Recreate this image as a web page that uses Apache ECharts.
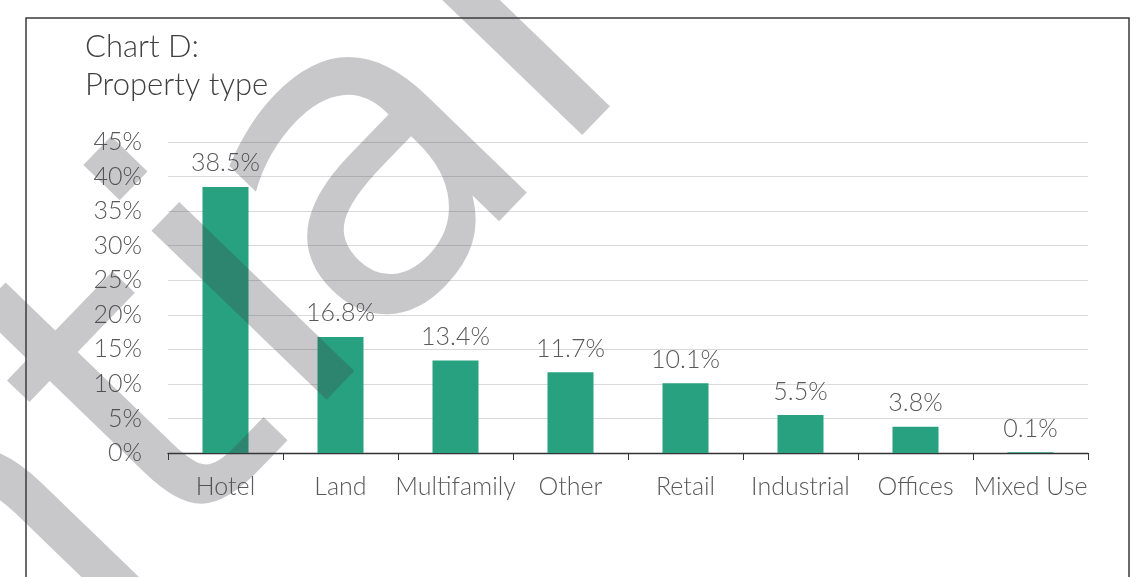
<!DOCTYPE html>
<html>
<head>
<meta charset="utf-8">
<script src="https://cdn.jsdelivr.net/npm/echarts@6/dist/echarts.min.js"></script>
<style>html,body{margin:0;padding:0;background:#fff;}#c{width:1140px;height:577px;}</style>
</head>
<body>
<div id="c"></div>
<script>
const categories = ['Hotel', 'Land', 'Multifamily', 'Other', 'Retail', 'Industrial', 'Offices', 'Mixed Use'];
const shares = [38.5, 16.8, 13.4, 11.7, 10.1, 5.5, 3.8, 0.1];
const yTicks = [0, 5, 10, 15, 20, 25, 30, 35, 40, 45];
const titleLines = ['Chart D:', 'Property type'];

const FONT = 'Lato';

// decorative diagonal watermark (partial word), drawn as rotated text
const WM_SIZE = 445;
const WM_ROT = 46 * Math.PI / 180;
const wmB = [Math.cos(WM_ROT), -Math.sin(WM_ROT)];
const wmU = [-Math.sin(WM_ROT), -Math.cos(WM_ROT)];
const wmOrigin = [338, 383];
const wmK = 0.252 * WM_SIZE;
function wmPiece(str, s, align) {
  const x = wmOrigin[0] + wmB[0] * s + wmU[0] * wmK;
  const y = wmOrigin[1] + wmB[1] * s + wmU[1] * wmK;
  return {type: 'text', x: x, y: y, rotation: WM_ROT, z: 100, silent: true,
    style: {text: str, font: 'normal ' + WM_SIZE + 'px "DejaVu Sans"', fill: 'rgba(65,67,72,0.29)',
      textAlign: align, textVerticalAlign: 'middle'}};
}

const chart = echarts.init(document.getElementById('c'), null, {renderer: 'canvas'});
chart.setOption({
  animation: false,
  backgroundColor: '#ffffff',
  textStyle: {fontFamily: FONT},
  title: {
    text: titleLines.join('\n'),
    left: 80, top: 23,
    textStyle: {fontFamily: FONT, fontWeight: 300, fontSize: 31, color: '#404040', lineHeight: 38}
  },
  grid: {left: 168, right: 52, top: 142, bottom: 124, containLabel: false},
  xAxis: {
    type: 'category',
    data: categories,
    axisLine: {lineStyle: {color: '#333333', width: 1.3}},
    axisTick: {show: true, length: 7, lineStyle: {color: '#333333'}},
    axisLabel: {fontFamily: FONT, fontWeight: 300, fontSize: 25, color: '#595959', margin: 21, interval: 0}
  },
  yAxis: {
    type: 'value',
    min: yTicks[0], max: yTicks[yTicks.length - 1], interval: yTicks[1] - yTicks[0],
    axisLine: {show: false},
    axisTick: {show: false},
    splitLine: {lineStyle: {color: '#d9d9d9', width: 1}},
    axisLabel: {fontFamily: FONT, fontWeight: 300, fontSize: 25, color: '#595959', margin: 26, formatter: '{value}%'}
  },
  series: [{
    type: 'bar',
    data: shares,
    barWidth: '40%',
    itemStyle: {color: '#27a17f'},
    label: {
      show: true, position: 'top', distance: 11,
      fontFamily: FONT, fontWeight: 300, fontSize: 25, color: '#595959',
      formatter: p => p.value.toFixed(1) + '%'
    }
  }],
  graphic: [
    {type: 'rect', shape: {x: 26, y: 18, width: 1103, height: 700}, style: {fill: 'none', stroke: '#3a3a3a', lineWidth: 1.5}, z: 0, silent: true},
    wmPiece('den', -240, 'right'),
    wmPiece('t', -240, 'left'),
    wmPiece('i', -62, 'left'),
    wmPiece('a', 36, 'left'),
    wmPiece('l', 306, 'left')
  ]
});
</script>
</body>
</html>
